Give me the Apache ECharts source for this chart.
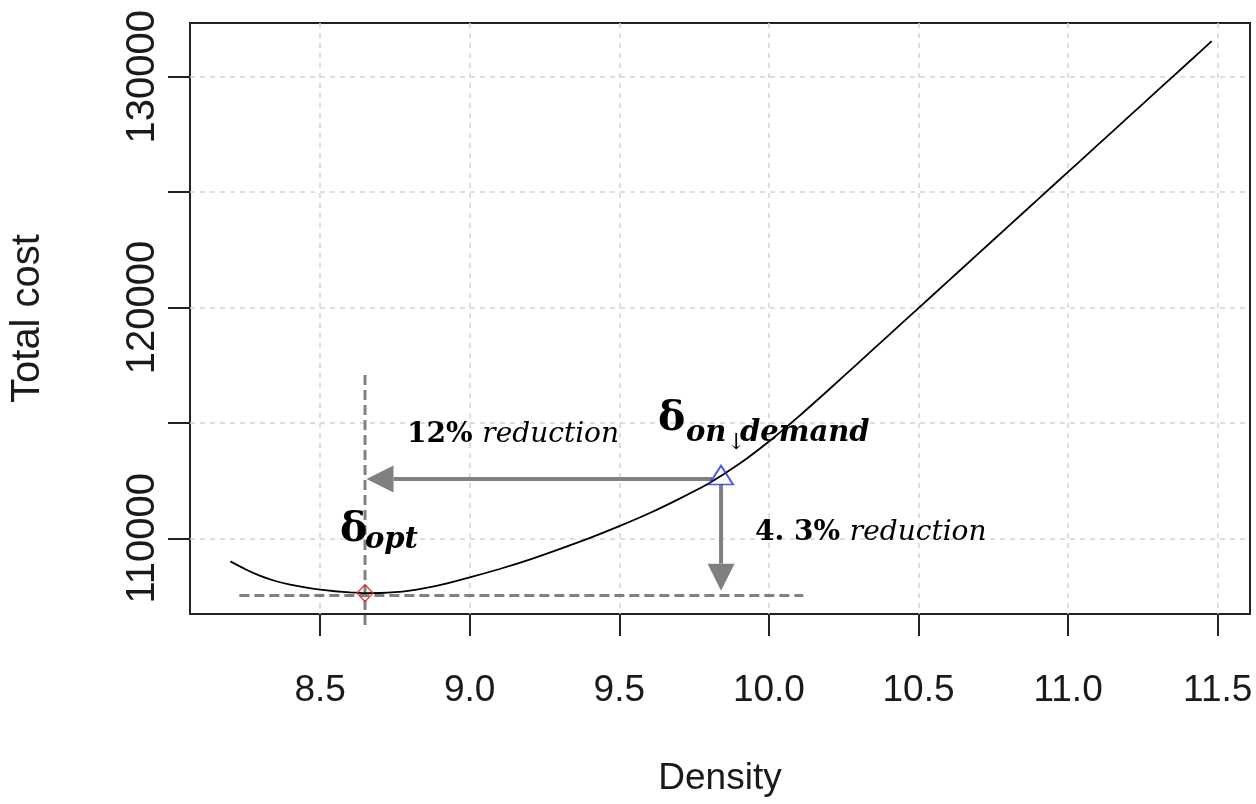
<!DOCTYPE html>
<html>
<head>
<meta charset="utf-8">
<script src="https://cdn.jsdelivr.net/npm/echarts@6/dist/echarts.min.js"></script>
<style>html,body{margin:0;padding:0;background:#fff;}#chart{width:1256px;height:804px;}</style>
</head>
<body>
<div id="chart"></div>
<script>
// ---- data ----
const density = [8.20,8.25,8.30,8.35,8.40,8.45,8.50,8.55,8.60,8.65,8.70,8.75,8.80,8.85,8.90,8.95,9.00,9.10,9.20,9.30,9.40,9.50,9.60,9.70,9.80,9.90,10.00,10.10,10.20,10.30,10.40,10.50,10.60,10.70,10.80,10.90,11.00,11.10,11.20,11.30,11.40,11.48];
const totalCost = [109000,108660,108370,108150,107990,107870,107775,107705,107655,107625,107630,107665,107735,107840,107970,108130,108305,108670,109075,109530,110005,110525,111085,111710,112385,113215,114195,115285,116435,117615,118795,119975,121155,122335,123515,124695,125875,127055,128235,129415,130595,131540];
const xTicks = [8.5, 9.0, 9.5, 10.0, 10.5, 11.0, 11.5];
const yTicks = [110000, 115000, 120000, 125000, 130000];
const yLabels = [110000, 120000, 130000];
const optPoint = [8.65, 107625];
const onDemandPoint = [9.84, 112740];
// annotation segments: [x1, y1, x2, y2]
const annSegments = [
  [8.65, 117080, 8.65, 106160],
  [8.23, 107520, 10.115, 107520],
  [9.81, 112570, 8.655, 112570],
  [9.84, 112330, 9.84, 107730]
];
const annKinds = ['dash', 'dash', 'arrow', 'arrow'];

const chart = echarts.init(document.getElementById('chart'), null, {renderer: 'canvas'});
const axisFont = 'Liberation Sans, Arial, sans-serif';
const mathFont = 'DejaVu Serif, serif';
const gray = '#808080';

const option = {
  animation: false,
  backgroundColor: '#ffffff',
  grid: {left: 188, top: 23, right: 6, bottom: 190, show: true, borderColor: '#222', borderWidth: 2, backgroundColor: 'transparent'},
  xAxis: {
    type: 'value', min: 8.065, max: 11.608,
    axisLine: {show: false},
    axisTick: {show: true, customValues: xTicks, length: 22, lineStyle: {color: '#222', width: 2}},
    axisLabel: {customValues: xTicks, formatter: v => Number(v).toFixed(1), fontSize: 37, fontFamily: axisFont, color: '#1a1a1a', margin: 58},
    splitLine: {show: true, lineStyle: {color: '#d3d3d3', width: 1.5, type: [5, 5]}},
    name: 'Density', nameLocation: 'middle', nameGap: 146,
    nameTextStyle: {fontSize: 37, fontFamily: axisFont, color: '#1a1a1a'}
  },
  yAxis: {
    type: 'value', min: 106720, max: 132327,
    axisLine: {show: false},
    axisTick: {show: true, customValues: yTicks, length: 22, lineStyle: {color: '#222', width: 2}},
    axisLabel: {customValues: yLabels, formatter: v => String(Math.round(v)), rotate: 90, fontSize: 40, fontFamily: axisFont, color: '#1a1a1a', margin: 27},
    splitLine: {show: true, lineStyle: {color: '#d3d3d3', width: 1.5, type: [5, 5]}},
    name: 'Total cost', nameLocation: 'middle', nameGap: 142,
    nameTextStyle: {fontSize: 40, fontFamily: axisFont, color: '#1a1a1a'}
  },
  series: [
    {
      type: 'custom', z: 2, clip: false, silent: true,
      encode: {x: [0, 2], y: [1, 3]},
      data: annSegments,
      renderItem: function (params, api) {
        const p1 = api.coord([api.value(0), api.value(1)]);
        const p2 = api.coord([api.value(2), api.value(3)]);
        const kind = annKinds[params.dataIndex];
        if (kind === 'dash') {
          return {type: 'line', shape: {x1: p1[0], y1: p1[1], x2: p2[0], y2: p2[1]},
                  style: {stroke: gray, lineWidth: 3, lineDash: [10, 5]}};
        }
        const dx = p2[0] - p1[0], dy = p2[1] - p1[1];
        const len = Math.hypot(dx, dy), ux = dx / len, uy = dy / len;
        const head = 27, half = 13.5;
        const bx = p2[0] - ux * head, by = p2[1] - uy * head;
        return {type: 'group', children: [
          {type: 'line', shape: {x1: p1[0], y1: p1[1], x2: bx, y2: by}, style: {stroke: gray, lineWidth: 4}},
          {type: 'polygon', shape: {points: [[p2[0], p2[1]], [bx - uy * half, by + ux * half], [bx + uy * half, by - ux * half]]}, style: {fill: gray}}
        ]};
      }
    },
    {
      type: 'line', z: 3, data: density.map((d, i) => [d, totalCost[i]]),
      showSymbol: false, symbol: 'none', smooth: 0.2,
      lineStyle: {color: '#000', width: 1.8}
    },
    {
      type: 'scatter', z: 4, data: [optPoint], symbol: 'diamond', symbolSize: [16, 17],
      itemStyle: {color: 'rgba(255,255,255,0)', borderColor: '#e02a2a', borderWidth: 1.5}
    },
    {
      type: 'scatter', z: 4, data: [onDemandPoint], symbol: 'triangle', symbolSize: [24, 19],
      itemStyle: {color: 'rgba(255,255,255,0)', borderColor: '#1f2de0', borderWidth: 1.8}
    }
  ],
  graphic: [
    {type: 'text', x: 407, y: 435, z: 10, style: {
      text: '{b|12% }{i|reduction}', verticalAlign: 'middle', align: 'left',
      rich: {b: {fontFamily: mathFont, fontWeight: 'bold', fontSize: 28, fill: '#000'},
             i: {fontFamily: mathFont, fontStyle: 'italic', fontSize: 28, fill: '#000'}}}},
    {type: 'text', x: 755, y: 533, z: 10, style: {
      text: '{b|4. 3% }{i|reduction}', verticalAlign: 'middle', align: 'left',
      rich: {b: {fontFamily: mathFont, fontWeight: 'bold', fontSize: 28, fill: '#000'},
             i: {fontFamily: mathFont, fontStyle: 'italic', fontSize: 28, fill: '#000'}}}},
    {type: 'text', x: 658, y: 419, z: 10, style: {text: 'δ', fontFamily: mathFont, fontWeight: 'bold', fontSize: 41, fill: '#000', verticalAlign: 'middle', align: 'left'}},
    {type: 'text', x: 686, y: 433, z: 10, style: {text: 'on', fontFamily: mathFont, fontWeight: 'bold', fontStyle: 'italic', fontSize: 29, fill: '#000', verticalAlign: 'middle', align: 'left'}},
    {type: 'text', x: 727, y: 443, z: 10, style: {text: '↓', fontFamily: mathFont, fontSize: 22, fill: '#000', verticalAlign: 'middle', align: 'left'}},
    {type: 'text', x: 740, y: 433, z: 10, style: {text: 'demand', fontFamily: mathFont, fontWeight: 'bold', fontStyle: 'italic', fontSize: 29, fill: '#000', verticalAlign: 'middle', align: 'left'}},
    {type: 'text', x: 340, y: 530, z: 10, style: {text: 'δ', fontFamily: mathFont, fontWeight: 'bold', fontSize: 41, fill: '#000', verticalAlign: 'middle', align: 'left'}},
    {type: 'text', x: 365, y: 540, z: 10, style: {text: 'opt', fontFamily: mathFont, fontWeight: 'bold', fontStyle: 'italic', fontSize: 29, fill: '#000', verticalAlign: 'middle', align: 'left'}}
  ]
};
chart.setOption(option);
</script>
</body>
</html>
